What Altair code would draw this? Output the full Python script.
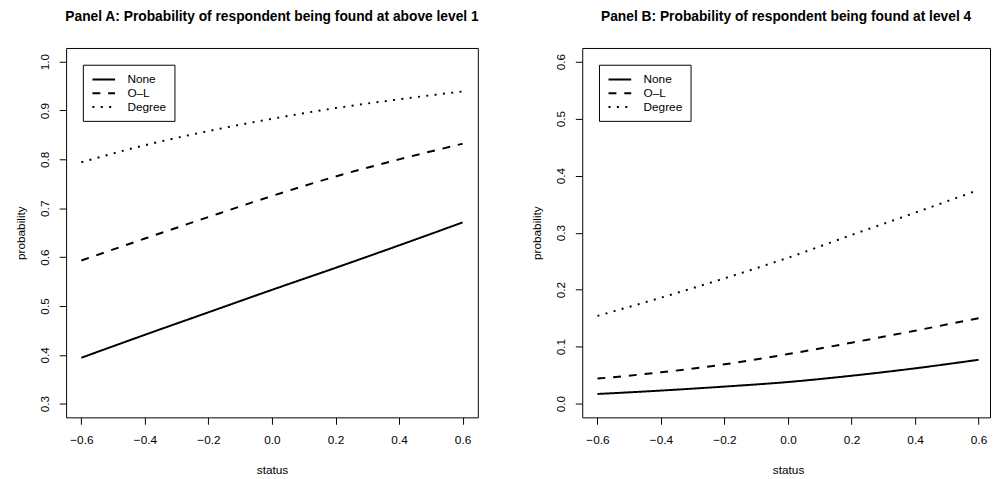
import altair as alt
import pandas as pd

# ---- data ----
status = [-0.6, -0.4, -0.2, 0.0, 0.2, 0.4, 0.6]
groups = ["None", "O–L", "Degree"]

a_none = [0.394, 0.441, 0.487, 0.533, 0.578, 0.624, 0.671]
a_ol = [0.593, 0.638, 0.682, 0.725, 0.765, 0.800, 0.832]
a_degree = [0.794, 0.829, 0.858, 0.883, 0.905, 0.923, 0.939]

b_none = [0.017, 0.023, 0.030, 0.038, 0.049, 0.062, 0.077]
b_ol = [0.044, 0.055, 0.069, 0.087, 0.107, 0.128, 0.150]
b_degree = [0.154, 0.186, 0.220, 0.256, 0.296, 0.335, 0.375]

x_ticks = [-0.6, -0.4, -0.2, 0.0, 0.2, 0.4, 0.6]
a_y_ticks = [0.3, 0.4, 0.5, 0.6, 0.7, 0.8, 0.9, 1.0]
b_y_ticks = [0.0, 0.1, 0.2, 0.3, 0.4, 0.5, 0.6]

title_a = "Panel A: Probability of respondent being found at above level 1"
title_b = "Panel B: Probability of respondent being found at level 4"

FONT = "Liberation Sans"


def frame(series):
    rows = []
    for g, vals in zip(groups, series):
        for s, v in zip(status, vals):
            rows.append({"status": s, "probability": v, "group": g})
    return pd.DataFrame(rows)


def x_axis():
    return alt.Axis(values=x_ticks, format=".1f", domain=False, grid=False,
                    tickSize=7, tickColor="black", tickWidth=1,
                    labelFont=FONT, labelFontSize=12, labelColor="black",
                    labelPadding=11, labelFlush=False, labelOverlap=False,
                    title="status", titleFont=FONT, titleFontSize=12,
                    titleFontWeight="normal", titleColor="black",
                    titleX=209, titleY=57, titleAlign="center",
                    titleBaseline="alphabetic")


def y_axis(ticks):
    return alt.Axis(values=ticks, format=".1f", domain=False, grid=False,
                    tickSize=7, tickColor="black", tickWidth=1,
                    labelFont=FONT, labelFontSize=12, labelColor="black",
                    labelAngle=270, labelAlign="center", labelBaseline="bottom",
                    labelPadding=8, labelFlush=False, labelOverlap=False,
                    title="probability", titleFont=FONT, titleFontSize=12,
                    titleFontWeight="normal", titleColor="black",
                    titleAngle=270, titleX=-42.5, titleY=187.5,
                    titleAlign="center", titleBaseline="alphabetic")


legend = alt.Legend(title=None, orient="none", legendX=17, legendY=17,
                    direction="vertical",
                    symbolType="M-2,0L2,0", symbolSize=132.25,
                    symbolStrokeWidth=2, symbolStrokeColor="black",
                    symbolFillColor="transparent", symbolOffset=6.2,
                    labelOffset=17, labelFont=FONT, labelFontSize=12,
                    labelColor="black", padding=8, rowPadding=1,
                    strokeColor="black", fillColor="white", cornerRadius=0)

dash = alt.Scale(domain=groups, range=[[1, 0], [8, 8], [2, 6.5]])


def panel(df, title, ydom, yticks, width, xdom):
    return alt.Chart(df).mark_line(color="black", strokeWidth=2,
                                   interpolate="monotone").encode(
        x=alt.X("status:Q", scale=alt.Scale(domain=xdom, nice=False, zero=False),
                axis=x_axis()),
        y=alt.Y("probability:Q", scale=alt.Scale(domain=ydom, nice=False, zero=False),
                axis=y_axis(yticks)),
        strokeDash=alt.StrokeDash("group:N", scale=dash, legend=legend),
        order=alt.Order("status:Q"),
    ).properties(
        width=width, height=375,
        title=alt.TitleParams(title, font=FONT, fontSize=14, fontWeight="bold",
                              color="black", anchor="middle", offset=13,
                              baseline="alphabetic"),
    )


pa = panel(frame([a_none, a_ol, a_degree]), title_a, [0.272, 1.028], a_y_ticks,
           418, [-0.648, 0.648])
pb = panel(frame([b_none, b_ol, b_degree]), title_b, [-0.024, 0.624], b_y_ticks,
           414, [-0.648, 0.636])

chart = alt.hconcat(pa, pb, spacing=51).resolve_scale(
    strokeDash="independent"
).configure(
    padding={"left": 6, "top": -2, "right": 0, "bottom": 0},
    background="white",
).configure_view(stroke="black", strokeWidth=1)

chart.save("out.html", embed_options={"renderer": "svg", "actions": False})
